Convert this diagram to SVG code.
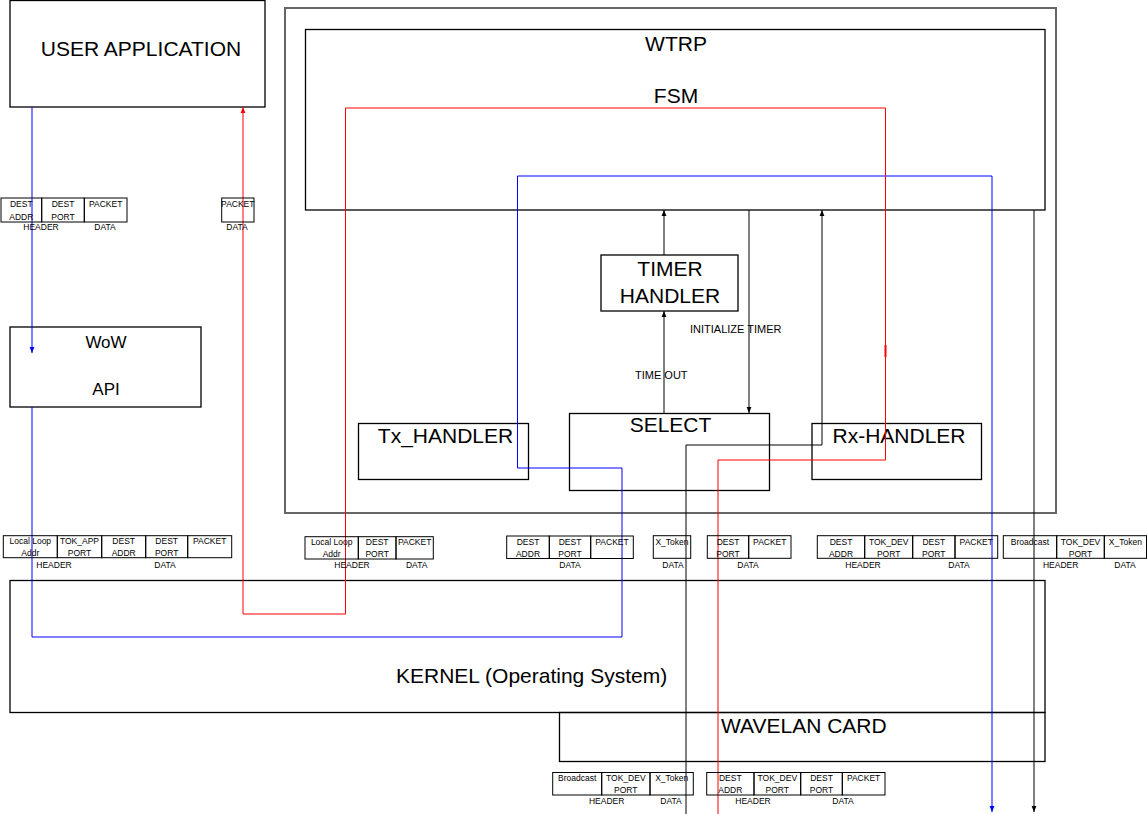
<svg xmlns="http://www.w3.org/2000/svg" width="1147" height="814" viewBox="0 0 1147 814">
<style>
text{font-family:"Liberation Sans",Arial,sans-serif;fill:#000}
.box{fill:none;stroke:#000;stroke-width:1.3}
.outer{fill:none;stroke:#666;stroke-width:2}
.big{font-size:21px;text-anchor:middle}
.mid{font-size:17px;text-anchor:middle}
.lbl{font-size:11px}
.cell{fill:none;stroke:#000;stroke-width:1}
.ct{font-size:8.5px;text-anchor:middle}
.k{fill:none;stroke:#000;stroke-width:1}
.r{fill:none;stroke:#ff0000;stroke-width:1}
.b{fill:none;stroke:#0000ff;stroke-width:1}
</style>
<defs>
<marker id="ak" markerUnits="userSpaceOnUse" markerWidth="6" markerHeight="10" refX="10" refY="5" viewBox="0 0 10 10" orient="auto"><path d="M0,1 L10,5 L0,9 z" fill="#000"/></marker>
<marker id="ar" markerUnits="userSpaceOnUse" markerWidth="6" markerHeight="10" refX="10" refY="5" viewBox="0 0 10 10" orient="auto"><path d="M0,1 L10,5 L0,9 z" fill="#ff0000"/></marker>
<marker id="ab" markerUnits="userSpaceOnUse" markerWidth="6" markerHeight="10" refX="10" refY="5" viewBox="0 0 10 10" orient="auto"><path d="M0,1 L10,5 L0,9 z" fill="#0000ff"/></marker>
</defs>

<g id="wtrp-container"><rect class="outer" x="285" y="8" width="771" height="505"/></g>
<g id="user-application"><rect class="box" x="10" y="0.5" width="255" height="106.5"/><text class="big" x="141" y="56">USER APPLICATION</text></g>
<g id="wtrp"><rect class="box" x="305.5" y="29.5" width="739.5" height="180.5"/><text class="big" x="676" y="51">WTRP</text><text class="big" x="676" y="103">FSM</text></g>
<g id="timer-handler"><rect class="box" x="601" y="255" width="137" height="56"/><text class="big" x="670" y="276">TIMER</text><text class="big" x="670" y="303">HANDLER</text></g>
<g id="select"><rect class="box" x="569.5" y="413.5" width="200" height="77"/><text class="big" x="670.5" y="432">SELECT</text></g>
<g id="tx-handler"><rect class="box" x="358.5" y="423.5" width="170" height="56"/><text class="big" x="445.5" y="443">Tx_HANDLER</text></g>
<g id="rx-handler"><rect class="box" x="812" y="423.5" width="169.5" height="56"/><text class="big" x="899" y="443">Rx-HANDLER</text></g>
<g id="wow-api"><rect class="box" x="10" y="327" width="191" height="80"/><text class="mid" x="106" y="348">WoW</text><text class="mid" x="106" y="395">API</text></g>
<g id="kernel"><rect class="box" x="10" y="580.5" width="1035" height="132"/><text x="396" y="683" style="font-size:21px">KERNEL (Operating System)</text></g>
<g id="wavelan-card"><rect class="box" x="559.5" y="712.5" width="485.5" height="49"/><text x="721" y="733" style="font-size:21px">WAVELAN CARD</text></g>

<g id="connectors">
<polyline class="b" points="32,107 32,353" marker-end="url(#ab)"/>
<polyline class="b" points="32,407 32,637 622,637 622,468 517.5,468 517.5,176 992,176 992,812" marker-end="url(#ab)"/>
<polyline class="r" points="718,814 718,460 885.5,460 885.5,108 345.5,108 345.5,614 243,614 243,107" marker-end="url(#ar)"/>
<line x1="885.5" y1="345" x2="885.5" y2="357" stroke="#ff0000" stroke-width="2"/>
<polyline class="k" points="686,814 686,445 822,445 822,210" marker-end="url(#ak)"/>
<line class="k" x1="1034" y1="210" x2="1034" y2="812" marker-end="url(#ak)"/>
<line class="k" x1="664" y1="255" x2="664" y2="210" marker-end="url(#ak)"/>
<line class="k" x1="664" y1="413" x2="664" y2="311" marker-end="url(#ak)"/>
<line class="k" x1="749" y1="210" x2="749" y2="413" marker-end="url(#ak)"/>
<text class="lbl" x="635" y="379">TIME OUT</text>
<text class="lbl" x="690" y="333">INITIALIZE TIMER</text>
</g>

<g id="pkt-app-out">
<rect class="cell" x="1" y="198" width="40.7" height="24"/><rect class="cell" x="41.7" y="198" width="42.6" height="24"/><rect class="cell" x="84.3" y="198" width="42.7" height="24"/>
<text class="ct" x="21.3" y="207">DEST</text><text class="ct" x="21.3" y="220">ADDR</text>
<text class="ct" x="63" y="207">DEST</text><text class="ct" x="63" y="220">PORT</text>
<text class="ct" x="105.7" y="207">PACKET</text>
<text class="ct" x="41" y="230">HEADER</text><text class="ct" x="105" y="230">DATA</text>
</g>
<g id="pkt-app-in">
<rect class="cell" x="221.7" y="198" width="32.3" height="24"/>
<text class="ct" x="237.8" y="207">PACKET</text>
<text class="ct" x="237" y="230">DATA</text>
</g>
<g id="pkt-wow-out">
<rect class="cell" x="3.3" y="535.7" width="54" height="22"/><rect class="cell" x="57.3" y="535.7" width="44.4" height="22"/><rect class="cell" x="101.7" y="535.7" width="44" height="22"/><rect class="cell" x="145.7" y="535.7" width="42" height="22"/><rect class="cell" x="187.7" y="535.7" width="44" height="22"/>
<text class="ct" x="30.3" y="544">Local Loop</text><text class="ct" x="30.3" y="556">Addr</text>
<text class="ct" x="79.5" y="544">TOK_APP</text><text class="ct" x="79.5" y="556">PORT</text>
<text class="ct" x="123.7" y="544">DEST</text><text class="ct" x="123.7" y="556">ADDR</text>
<text class="ct" x="166.7" y="544">DEST</text><text class="ct" x="166.7" y="556">PORT</text>
<text class="ct" x="209.7" y="544">PACKET</text>
<text class="ct" x="54" y="567.5">HEADER</text><text class="ct" x="165" y="567.5">DATA</text>
</g>
<g id="pkt-kernel-up">
<rect class="cell" x="305" y="536.7" width="53.3" height="22.3"/><rect class="cell" x="358.3" y="536.7" width="37.7" height="22.3"/><rect class="cell" x="396" y="536.7" width="37.3" height="22.3"/>
<text class="ct" x="331.7" y="545">Local Loop</text><text class="ct" x="331.7" y="557">Addr</text>
<text class="ct" x="377.2" y="545">DEST</text><text class="ct" x="377.2" y="557">PORT</text>
<text class="ct" x="414.7" y="545">PACKET</text>
<text class="ct" x="352" y="568">HEADER</text><text class="ct" x="416.7" y="568">DATA</text>
</g>
<g id="pkt-tx">
<rect class="cell" x="506.7" y="536" width="42.6" height="22.5"/><rect class="cell" x="549.3" y="536" width="41.4" height="22.5"/><rect class="cell" x="590.7" y="536" width="42.6" height="22.5"/>
<text class="ct" x="528" y="544.5">DEST</text><text class="ct" x="528" y="556.5">ADDR</text>
<text class="ct" x="570" y="544.5">DEST</text><text class="ct" x="570" y="556.5">PORT</text>
<text class="ct" x="612" y="544.5">PACKET</text>
<text class="ct" x="570" y="567.5">DATA</text>
</g>
<g id="pkt-token-up">
<rect class="cell" x="653.3" y="535.7" width="37.4" height="22.6"/>
<text class="ct" x="672" y="544.5">X_Token</text>
<text class="ct" x="673" y="567.5">DATA</text>
</g>
<g id="pkt-rx">
<rect class="cell" x="707.3" y="535.7" width="41.4" height="22.6"/><rect class="cell" x="748.7" y="535.7" width="42.3" height="22.6"/>
<text class="ct" x="728" y="544.5">DEST</text><text class="ct" x="728" y="556.5">PORT</text>
<text class="ct" x="769.8" y="544.5">PACKET</text>
<text class="ct" x="748" y="567.5">DATA</text>
</g>
<g id="pkt-wtrp-out">
<rect class="cell" x="817.3" y="535.7" width="47.4" height="22.6"/><rect class="cell" x="864.7" y="535.7" width="48" height="22.6"/><rect class="cell" x="912.7" y="535.7" width="42.3" height="22.6"/><rect class="cell" x="955" y="535.7" width="42.7" height="22.6"/>
<text class="ct" x="841" y="544.5">DEST</text><text class="ct" x="841" y="556.5">ADDR</text>
<text class="ct" x="888.7" y="544.5">TOK_DEV</text><text class="ct" x="888.7" y="556.5">PORT</text>
<text class="ct" x="933.8" y="544.5">DEST</text><text class="ct" x="933.8" y="556.5">PORT</text>
<text class="ct" x="976.3" y="544.5">PACKET</text>
<text class="ct" x="863" y="567.5">HEADER</text><text class="ct" x="959" y="567.5">DATA</text>
</g>
<g id="pkt-broadcast-out">
<rect class="cell" x="1003.3" y="535.7" width="53.4" height="22.6"/><rect class="cell" x="1056.7" y="535.7" width="47.6" height="22.6"/><rect class="cell" x="1104.3" y="535.7" width="42.2" height="22.6"/>
<text class="ct" x="1030" y="544.5">Broadcast</text>
<text class="ct" x="1080.5" y="544.5">TOK_DEV</text><text class="ct" x="1080.5" y="556.5">PORT</text>
<text class="ct" x="1125.4" y="544.5">X_Token</text>
<text class="ct" x="1060.7" y="567.5">HEADER</text><text class="ct" x="1125" y="567.5">DATA</text>
</g>
<g id="pkt-card-token">
<rect class="cell" x="552.7" y="772.5" width="49" height="22.5"/><rect class="cell" x="601.7" y="772.5" width="48.3" height="22.5"/><rect class="cell" x="650" y="772.5" width="43.3" height="22.5"/>
<text class="ct" x="577.2" y="781">Broadcast</text>
<text class="ct" x="625.8" y="781">TOK_DEV</text><text class="ct" x="625.8" y="793">PORT</text>
<text class="ct" x="671.7" y="781">X_Token</text>
<text class="ct" x="606.7" y="804">HEADER</text><text class="ct" x="671" y="804">DATA</text>
</g>
<g id="pkt-card-data">
<rect class="cell" x="706.7" y="772.5" width="47.3" height="22.5"/><rect class="cell" x="754" y="772.5" width="46.7" height="22.5"/><rect class="cell" x="800.7" y="772.5" width="41.6" height="22.5"/><rect class="cell" x="842.3" y="772.5" width="42.7" height="22.5"/>
<text class="ct" x="730.3" y="781">DEST</text><text class="ct" x="730.3" y="793">ADDR</text>
<text class="ct" x="777.3" y="781">TOK_DEV</text><text class="ct" x="777.3" y="793">PORT</text>
<text class="ct" x="821.5" y="781">DEST</text><text class="ct" x="821.5" y="793">PORT</text>
<text class="ct" x="863.6" y="781">PACKET</text>
<text class="ct" x="753" y="804">HEADER</text><text class="ct" x="843" y="804">DATA</text>
</g>
</svg>
